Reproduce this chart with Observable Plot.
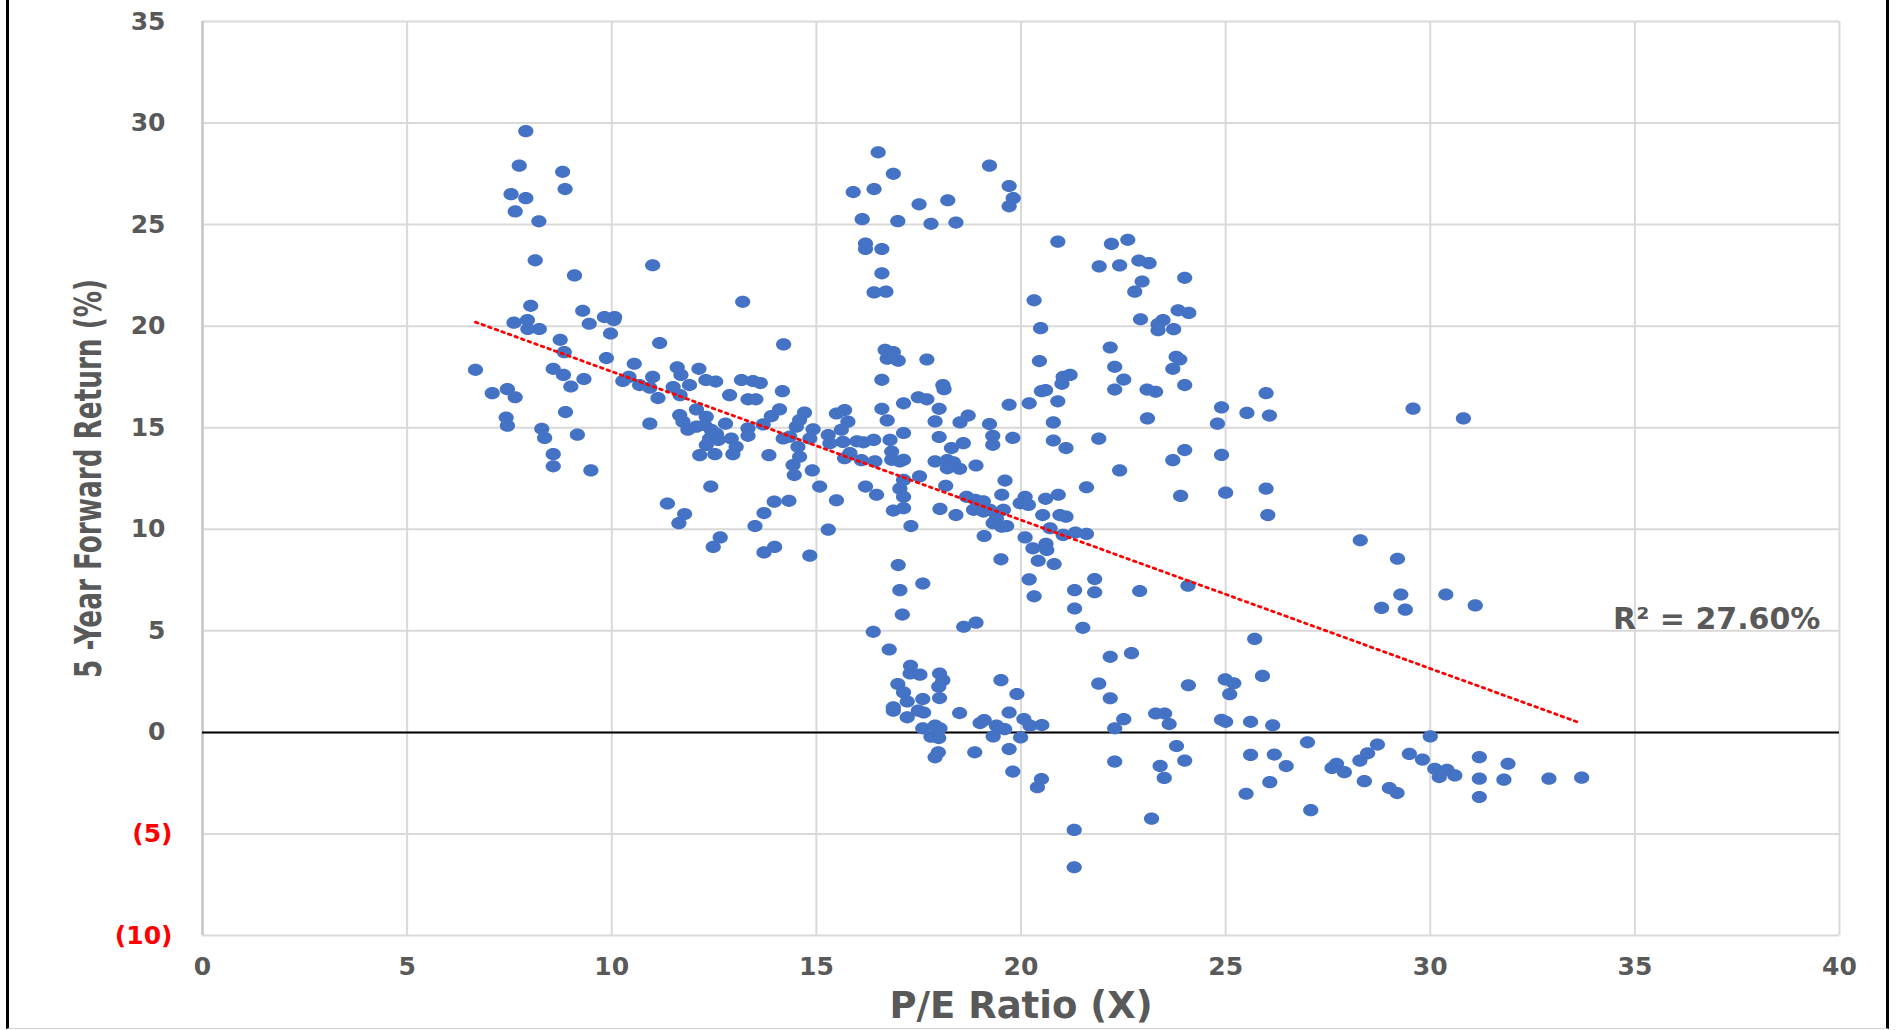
<!DOCTYPE html>
<html>
<head>
<meta charset="utf-8">
<script src="https://cdn.jsdelivr.net/npm/d3@7"></script>
<script src="https://cdn.jsdelivr.net/npm/@observablehq/plot@0.6"></script>
<style>
  html, body { margin: 0; padding: 0; background: #ffffff; }
  #frame { position: relative; width: 1896px; height: 1030px; overflow: hidden; background: #fff; }
  #frame svg { position: absolute; left: 0; top: 0; }
  #border { position: absolute; left: 6px; top: 0; width: 1877px; height: 1028px;
            border-left: 3px solid #000; border-right: 3px solid #000; border-bottom: 1px solid #d0d0d0;
            pointer-events: none; }
</style>
</head>
<body>
<div id="frame"><div id="border"></div></div>
<script>
// ---- Data: [P/E ratio (X), 5-year forward return (%)] ----
const peBand6to11 = [
  [7.9,29.6],[7.74,27.9],[8.8,27.6],[8.86,26.75],[7.54,26.5],[7.9,26.3],[7.64,25.65],[8.22,25.16],
  [8.13,23.24],[9.09,22.5],[11.0,23.0],[8.02,21.0],[7.61,20.17],[7.94,20.3],[7.95,19.86],[8.23,19.86],
  [9.29,20.76],[9.45,20.12],[9.82,20.45],[10.07,20.45],[10.05,20.3],[9.97,19.64],[11.17,19.17],
  [8.74,19.33],[8.84,18.72],[9.87,18.43],[10.55,18.15],[6.67,17.85],[8.57,17.9],[8.82,17.6],[9.32,17.4],
  [9.0,17.03],[10.27,17.3],[10.42,17.5],[10.68,17.1],[11.0,17.5],[10.93,16.97],[11.13,16.46],
  [7.08,16.7],[7.45,16.9],[7.64,16.5],[7.42,15.5],[7.45,15.1],[8.87,15.77],[8.29,14.95],[8.36,14.5],
  [9.16,14.66],[8.57,13.7],[8.57,13.1],[9.49,12.9],[10.93,15.2]
];
const peBand11to16 = [
  [13.2,21.2],[14.2,19.1],[11.6,17.97],[11.69,17.6],[12.13,17.9],[11.5,17.0],[11.67,16.6],[11.9,17.1],
  [12.3,17.35],[12.54,17.27],[13.17,17.35],[13.45,17.3],[13.63,17.2],[12.88,16.6],[13.33,16.4],[13.52,16.4],
  [14.17,16.8],[14.1,15.9],[13.9,15.57],[12.07,15.9],[11.66,15.62],[11.74,15.3],[11.86,14.9],[12.07,15.05],
  [12.31,15.54],[12.27,15.13],[12.43,14.9],[12.56,14.7],[12.78,15.2],[12.39,14.47],[12.6,14.4],[12.31,14.15],
  [12.92,14.47],[13.04,14.06],[13.33,14.97],[13.33,14.6],[12.15,13.65],[12.52,13.7],[12.96,13.7],[13.84,13.65],
  [13.7,15.16],[14.19,14.47],[14.51,15.05],[14.59,15.38],[14.71,15.74],[14.92,14.92],[14.84,14.47],[14.35,14.56],
  [14.55,14.06],[14.59,13.57],[14.43,13.16],[14.46,12.67],[14.9,12.9],[15.08,12.1],[15.49,11.43],[15.29,14.64],
  [15.33,14.23],[15.49,15.7],[15.69,15.87],[15.77,15.3],[15.61,14.9],[15.65,14.3],[15.69,13.5],
  [16.2,12.1],[16.47,11.7],[12.42,12.1],[11.36,11.27],[11.78,10.75],[11.64,10.3],[12.65,9.6],[12.48,9.13],
  [13.5,10.16],[13.72,10.8],[13.97,11.36],[14.33,11.4],[13.72,8.86],[13.98,9.13],[14.84,8.7],[15.29,9.98]
];
const peBand16to21High = [
  [16.51,28.56],[16.88,27.5],[15.9,26.6],[16.41,26.75],[17.51,26.0],[18.21,26.2],[19.23,27.9],[19.71,26.9],
  [19.81,26.3],[19.71,25.9],[16.12,25.27],[16.99,25.17],[17.8,25.04],[18.41,25.1],[16.2,24.06],[16.2,23.8],
  [16.6,23.8],[16.6,22.6],[16.41,21.66],[16.7,21.7],[20.9,24.16],[20.32,21.27],[20.48,19.9],[16.68,18.83],
  [16.88,18.72],[16.73,18.4],[17.0,18.3],[16.84,18.45],[17.7,18.36],[16.6,17.36],[18.09,17.1],[18.12,16.9],
  [20.45,18.28],[21.03,17.5],[21.2,17.6],[21.0,17.16],[20.6,16.85],[20.5,16.8],[20.9,16.3],[20.2,16.2],
  [19.71,16.13],[16.6,15.93],[17.13,16.2],[17.49,16.5],[17.7,16.4],[18.0,15.93]
];
const peBand16to21Mid = [
  [16.73,15.36],[17.13,14.74],[17.9,15.31],[18.51,15.26],[18.71,15.6],[19.23,15.18],[19.31,14.6],[19.31,14.16],
  [19.8,14.5],[18.0,14.54],[18.3,14.0],[18.59,14.24],[18.9,13.14],[17.9,13.34],[18.2,13.4],[18.35,13.3],
  [18.2,13.0],[18.5,12.98],[15.99,14.33],[16.15,14.28],[16.4,14.4],[16.8,14.4],[15.82,13.75],[16.1,13.4],
  [16.43,13.34],[16.84,13.83],[16.84,13.42],[17.04,13.34],[17.13,13.42],[17.52,12.6],[17.13,12.43],[17.04,12.0],
  [17.13,11.6],[16.88,10.92],[17.13,11.04],[17.31,10.16],[18.02,11.0],[18.41,10.7],[18.16,12.14],[18.67,11.6],
  [18.88,11.45],[19.08,11.37],[18.84,10.96],[19.08,10.87],[19.24,10.96],[19.4,10.54],[19.57,10.96],[19.32,10.3],
  [19.53,10.13],[19.65,10.16],[19.61,12.4],[19.53,11.7],[19.1,9.67],[19.51,8.52],[20.1,11.6],[19.98,11.28],
  [20.18,11.2],[20.6,11.5],[20.91,11.7],[20.53,10.7],[20.95,10.7],[21.1,10.62],[20.71,10.05],[21.03,9.72],
  [20.1,9.6],[20.29,9.06],[20.61,9.28],[20.63,8.98],[20.42,8.45],[20.81,8.29],[20.2,7.53],[20.32,6.7],
  [17.0,8.24],[17.04,7.0],[17.6,7.33],[17.1,5.8],[18.6,5.2],[18.9,5.4],[16.39,4.95],[16.78,4.08],
  [20.79,15.26],[20.79,14.37],[21.1,14.0]
];
const peBand16to21Low = [
  [17.3,3.28],[17.29,2.9],[17.53,2.84],[18.01,2.9],[18.09,2.57],[17.99,2.25],[18.01,1.69],[16.99,2.38],
  [17.13,1.97],[17.22,1.52],[16.88,1.23],[16.88,1.07],[17.22,0.74],[17.6,1.64],[17.49,1.07],[17.62,0.98],
  [17.6,0.2],[17.9,0.33],[18.02,0.2],[17.8,-0.21],[17.99,-0.28],[17.98,-0.98],[17.9,-1.23],[18.5,0.95],
  [19.0,0.46],[19.1,0.6],[19.51,2.57],[19.9,1.89],[19.71,0.98],[19.4,0.33],[19.6,0.16],[19.32,-0.2],
  [19.99,-0.25],[20.07,0.66],[20.22,0.33],[20.51,0.36],[18.87,-0.98],[19.71,-0.82],[19.8,-1.93],[20.5,-2.3],
  [20.4,-2.7],[21.3,-4.8],[21.3,-6.64]
];
const peBand21to26High = [
  [22.21,24.05],[22.61,24.25],[21.91,22.94],[22.41,22.99],[22.88,23.23],[23.13,23.1],[22.96,22.2],[22.78,21.7],
  [24.0,22.38],[22.92,20.34],[23.84,20.78],[24.1,20.65],[23.47,20.3],[23.35,20.1],[23.35,19.8],[23.73,19.85],
  [22.18,18.95],[22.29,18.0],[22.51,17.37],[22.29,16.88],[23.08,16.88],[23.29,16.77],[23.79,18.49],[23.88,18.36],
  [23.71,17.9],[24.0,17.1],[23.09,15.46],[24.9,16.0],[24.8,15.2],[25.52,15.73],[25.99,16.7],[26.07,15.6],
  [21.9,14.46],[24.0,13.9],[23.71,13.4],[24.9,13.66],[22.41,12.9]
];
const peBand21to26Mid = [
  [21.6,12.07],[23.9,11.64],[25.0,11.8],[25.99,12.0],[26.03,10.7],[21.33,9.84],[21.6,9.77],[21.8,7.55],
  [21.31,7.0],[21.8,6.9],[21.31,6.1],[22.9,6.96],[24.08,7.22],[21.51,5.15],[25.71,4.6],[22.18,3.72],[22.7,3.9]
];
const peBand21to26Low = [
  [21.9,2.4],[22.18,1.68],[22.51,0.65],[22.29,0.2],[23.29,0.93],[23.51,0.93],[23.62,0.41],[24.09,2.32],
  [24.99,2.61],[25.2,2.42],[25.1,1.88],[24.9,0.62],[25.0,0.52],[25.61,0.52],[25.9,2.78],[23.8,-0.67],
  [24.0,-1.39],[23.4,-1.65],[23.5,-2.24],[22.29,-1.44],[23.19,-4.25],[25.61,-1.11],[25.5,-3.02]
];
const peBand26plusHigh = [
  [29.58,15.94],[30.81,15.46],[28.29,9.46],[29.2,8.55],[29.28,6.79],[28.81,6.13],[29.39,6.04],[30.38,6.79],[31.1,6.25]
];
const peBand26plusLow = [
  [26.15,0.35],[27.0,-0.49],[26.19,-1.09],[26.48,-1.66],[26.08,-2.45],[27.08,-3.83],[27.6,-1.75],[27.71,-1.55],
  [27.9,-1.96],[28.28,-1.39],[28.47,-1.03],[28.71,-0.6],[28.39,-2.4],[29.0,-2.74],[29.19,-2.99],[29.49,-1.06],
  [29.81,-1.34],[30.0,-0.2],[30.11,-1.79],[30.41,-1.84],[30.22,-2.2],[30.6,-2.12],[31.2,-1.22],[31.2,-2.28],
  [31.2,-3.18],[31.9,-1.55],[31.8,-2.33],[32.9,-2.28],[33.7,-2.23]
];

// Trend line endpoints
const trendPE = [6.67, 33.67];
const trendReturn = [20.2, 0.46];

// Axis ticks and labels
const xTicks = [0, 5, 10, 15, 20, 25, 30, 35, 40];
const yTicks = [-10, -5, 0, 5, 10, 15, 20, 25, 30, 35];
const xTitle = "P/E Ratio (X)";
const yTitle = "5 -Year Forward Return (%)";
const r2Note = [{pe: 37.0, ret: 5.55, label: "R\u00B2 = 27.60%"}];

// ---- Build tables ----
const points = [].concat(
  peBand6to11, peBand11to16, peBand16to21High, peBand16to21Mid, peBand16to21Low,
  peBand21to26High, peBand21to26Mid, peBand21to26Low, peBand26plusHigh, peBand26plusLow
).map(([pe, ret]) => ({pe, ret}));
const trend = trendPE.map((pe, i) => ({pe, ret: trendReturn[i]}));

// Ellipse symbol (Excel-style slightly wide markers)
const ellipse = {
  draw(ctx) {
    const rx = 7.6, ry = 6.1, k = 0.5523, kx = rx * k, ky = ry * k;
    ctx.moveTo(rx, 0);
    ctx.bezierCurveTo(rx, ky, kx, ry, 0, ry);
    ctx.bezierCurveTo(-kx, ry, -rx, ky, -rx, 0);
    ctx.bezierCurveTo(-rx, -ky, -kx, -ry, 0, -ry);
    ctx.bezierCurveTo(kx, -ry, rx, -ky, rx, 0);
    ctx.closePath();
  }
};

const grey = "#595959";
const tickFont = "DejaVu Sans, Verdana, sans-serif";
const fmt = d => d < 0 ? `(${-d})` : `${d}`;
const yTitleLength = 399;

const chart = Plot.plot({
  width: 1896,
  height: 1030,
  marginLeft: 202,
  marginRight: 57,
  marginTop: 21,
  marginBottom: 95,
  x: {domain: [0, 40], axis: null},
  y: {domain: [-10, 35], axis: null},
  style: {background: "transparent", fontFamily: tickFont, overflow: "visible"},
  marks: [
    Plot.gridX(xTicks, {stroke: "#d9d9d9", strokeOpacity: 1, strokeWidth: 2}),
    Plot.gridY(yTicks, {stroke: "#d9d9d9", strokeOpacity: 1, strokeWidth: 2}),
    Plot.ruleX([0], {stroke: "#c8c8c8", strokeWidth: 2.5}),
    Plot.ruleY([0], {stroke: "#000000", strokeWidth: 2}),
    Plot.dot(points, {x: "pe", y: "ret", fill: "#4472c4", stroke: "none", symbol: ellipse, r: 7}),
    Plot.line(trend, {x: "pe", y: "ret", stroke: "#ff0000", strokeWidth: 2.8, strokeDasharray: "2.6 4.4"}),
    // x tick labels
    Plot.text(xTicks, {x: d => d, frameAnchor: "bottom", dy: 39, text: d => fmt(d),
      fontSize: 25, fontWeight: "bold", fill: grey, fontFamily: tickFont}),
    // y tick labels (positive / zero)
    Plot.text(yTicks.filter(d => d >= 0), {y: d => d, frameAnchor: "left", dx: -37, textAnchor: "end",
      text: d => fmt(d), fontSize: 25, fontWeight: "bold", fill: grey, fontFamily: tickFont}),
    // y tick labels (negative, red, parenthesised)
    Plot.text(yTicks.filter(d => d < 0), {y: d => d, frameAnchor: "left", dx: -30, textAnchor: "end",
      text: d => fmt(d), fontSize: 25, fontWeight: "bold", fill: "#ff0000", fontFamily: tickFont}),
    // axis titles
    Plot.text([xTitle], {frameAnchor: "bottom", dy: 82, text: d => d, fontSize: 37, fontWeight: "bold",
      fill: grey, fontFamily: tickFont}),
    Plot.text([yTitle], {frameAnchor: "left", dx: -114, dy: yTitleLength / 2, rotate: -90, textAnchor: "start",
      text: d => d, fontSize: 38, fontWeight: "bold", fill: grey,
      fontFamily: "Liberation Sans Narrow, DejaVu Sans Condensed, Arial Narrow, sans-serif"}),
    // R² annotation
    Plot.text(r2Note, {x: "pe", y: "ret", text: "label", fontSize: 30, fontWeight: "bold", fill: grey,
      fontFamily: tickFont})
  ]
});

document.getElementById("frame").prepend(chart);

// fit the rotated y title to the reference length (anchored at its start)
d3.select(chart).selectAll("text").each(function() {
  if (this.textContent === yTitle) {
    this.setAttribute("textLength", yTitleLength);
    this.setAttribute("lengthAdjust", "spacingAndGlyphs");
  }
});
</script>
</body>
</html>
